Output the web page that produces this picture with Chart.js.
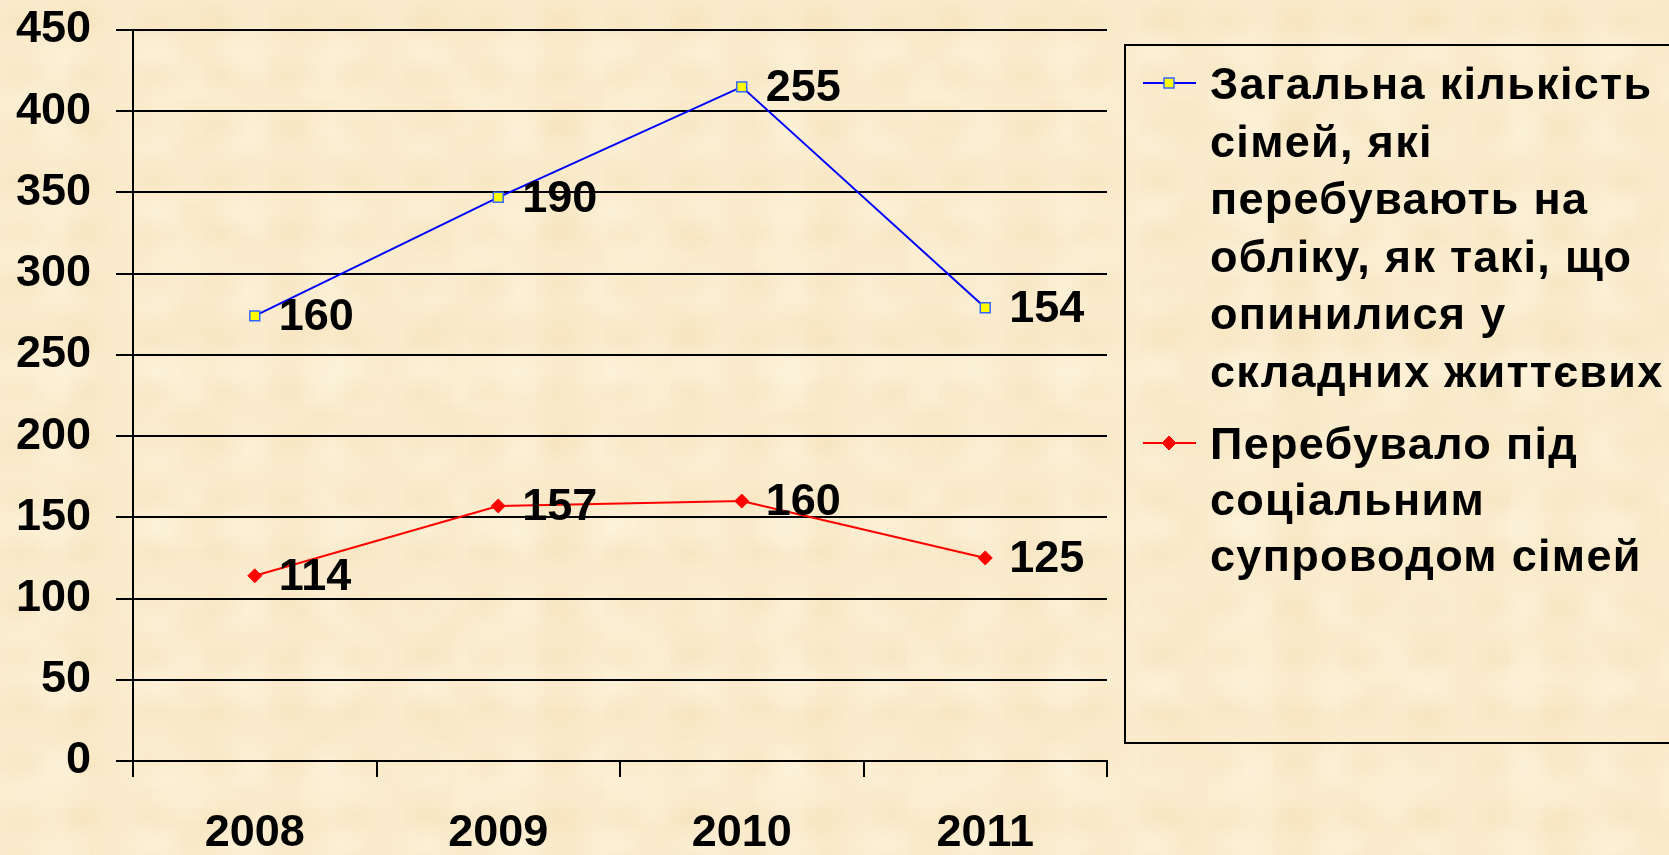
<!DOCTYPE html>
<html>
<head>
<meta charset="utf-8">
<script src="https://cdn.jsdelivr.net/npm/chart.js@4.4.1/dist/chart.umd.min.js"></script>
<style>
html, body { margin: 0; padding: 0; width: 1669px; height: 855px; overflow: hidden; }
body {
  background-color: #FAEBCC;
  background-image:
    radial-gradient(ellipse at 30% 40%, rgba(238,214,162,0.22) 0, rgba(238,214,162,0) 45%),
    radial-gradient(ellipse at 70% 70%, rgba(255,250,235,0.35) 0, rgba(255,250,235,0) 40%),
    radial-gradient(ellipse at 60% 20%, rgba(242,220,172,0.22) 0, rgba(242,220,172,0) 35%),
    radial-gradient(ellipse at 20% 80%, rgba(255,248,228,0.3) 0, rgba(255,248,228,0) 35%);
  background-size: 67px 53px, 91px 79px, 123px 101px, 151px 137px;
}
#wrap { position: relative; width: 1669px; height: 855px; }
canvas { display: block; }
</style>
</head>
<body>
<div id="wrap"><canvas id="chart" width="1669" height="855"></canvas></div>
<script>
// ---- data ----
const years = ['2008', '2009', '2010', '2011'];
const totalFamilies = [160, 190, 255, 154];      // blue series (stacked on top)
const supportedFamilies = [114, 157, 160, 125];  // red series
const totalName = 'Загальна кількість сімей, які перебувають на обліку, як такі, що опинилися у складних життєвих';
const supportedName = 'Перебувало під соціальним супроводом сімей';
const totalLegendLines = ['Загальна кількість', 'сімей, які', 'перебувають на', 'обліку, як такі, що', 'опинилися у', 'складних життєвих'];
const supportedLegendLines = ['Перебувало під', 'соціальним', 'супроводом сімей'];
const yMin = 0, yMax = 450, yStep = 50;

const FONT = "'Liberation Sans', Arial, Helvetica, sans-serif";

const valueLabels = {
  id: 'valueLabels',
  afterDatasetsDraw(chart) {
    const ctx = chart.ctx;
    ctx.save();
    ctx.font = 'bold 45px ' + FONT;
    ctx.fillStyle = '#000';
    ctx.textAlign = 'left';
    ctx.textBaseline = 'middle';
    chart.data.datasets.forEach((ds, di) => {
      const meta = chart.getDatasetMeta(di);
      meta.data.forEach((pt, i) => {
        ctx.fillText(String(ds.data[i]), pt.x + 24, pt.y + 2);
      });
    });
    ctx.restore();
  }
};

const sideLegend = {
  id: 'sideLegend',
  afterDraw(chart) {
    const ctx = chart.ctx;
    ctx.save();
    ctx.strokeStyle = '#000';
    ctx.lineWidth = 2;
    ctx.strokeRect(1125, 45, 600, 698);
    const items = [
      { ds: chart.data.datasets[1], lines: totalLegendLines, y0: 99, step: 57.5 },
      { ds: chart.data.datasets[0], lines: supportedLegendLines, y0: 459, step: 56 }
    ];
    ctx.font = 'bold 45px ' + FONT;
    ctx.textAlign = 'left';
    ctx.textBaseline = 'alphabetic';
    items.forEach(it => {
      const my = it.y0 - 16;
      ctx.strokeStyle = it.ds.borderColor;
      ctx.lineWidth = 2;
      ctx.beginPath();
      ctx.moveTo(1143, my);
      ctx.lineTo(1196, my);
      ctx.stroke();
      ctx.fillStyle = it.ds.pointBackgroundColor;
      ctx.strokeStyle = it.ds.pointBorderColor;
      ctx.lineWidth = it.ds.pointBorderWidth;
      ctx.beginPath();
      if (it.ds.pointStyle === 'rect') {
        ctx.rect(1169 - 5, my - 5, 10, 10);
      } else {
        ctx.moveTo(1169 - 7, my); ctx.lineTo(1169, my - 7); ctx.lineTo(1169 + 7, my); ctx.lineTo(1169, my + 7); ctx.closePath();
      }
      ctx.fill();
      ctx.stroke();
      ctx.fillStyle = '#000';
      try { ctx.letterSpacing = '1.3px'; } catch (e) {}
      it.lines.forEach((ln, k) => {
        ctx.fillText(ln, 1210, it.y0 + k * it.step);
      });
      try { ctx.letterSpacing = '0px'; } catch (e) {}
    });
    ctx.restore();
  }
};

new Chart(document.getElementById('chart'), {
  type: 'line',
  data: {
    labels: years,
    datasets: [
      {
        label: supportedName,
        data: supportedFamilies,
        borderColor: '#FF0000',
        borderWidth: 2,
        pointStyle: 'rectRot',
        pointRadius: 7,
        pointBackgroundColor: '#FF0000',
        pointBorderColor: '#FF0000',
        pointBorderWidth: 1,
        fill: false,
        tension: 0
      },
      {
        label: totalName,
        data: totalFamilies,
        borderColor: '#0000FF',
        borderWidth: 2,
        pointStyle: 'rect',
        pointRadius: 7,
        pointBackgroundColor: '#FFFF00',
        pointBorderColor: '#3366FF',
        pointBorderWidth: 1.5,
        fill: false,
        tension: 0
      }
    ]
  },
  options: {
    responsive: false,
    animation: false,
    devicePixelRatio: 1,
    layout: { padding: { top: 30, right: 562, bottom: 0, left: 0 } },
    plugins: {
      legend: { display: false },
      tooltip: { enabled: false }
    },
    scales: {
      x: {
        offset: true,
        grid: { offset: true, drawOnChartArea: false, drawTicks: true, tickLength: 16, color: '#000', lineWidth: 2 },
        border: { display: true, color: '#000', width: 2 },
        ticks: { color: '#000', font: { family: FONT, size: 45, weight: 'bold' }, padding: 30, maxRotation: 0 },
        afterFit(scale) { scale.height = 94; scale.paddingLeft = 0; scale.paddingRight = 0; }
      },
      y: {
        stacked: true,
        min: yMin,
        max: yMax,
        ticks: { stepSize: yStep, color: '#000', font: { family: FONT, size: 45, weight: 'bold' }, padding: 25 },
        grid: { color: '#000', lineWidth: 2, tickLength: 17, drawTicks: true },
        border: { display: true, color: '#000', width: 2 },
        afterFit(scale) { scale.width = 133; scale.paddingTop = 0; scale.paddingBottom = 0; }
      }
    }
  },
  plugins: [valueLabels, sideLegend]
});
</script>
</body>
</html>
